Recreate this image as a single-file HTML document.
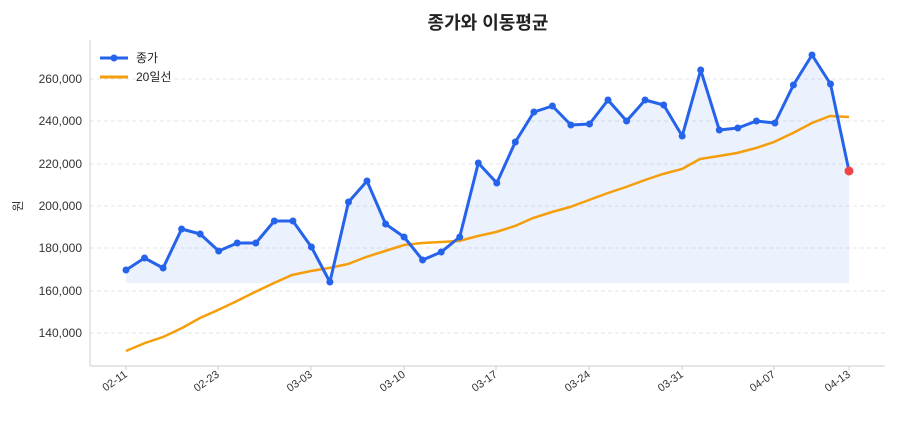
<!DOCTYPE html>
<html><head><meta charset="utf-8"><style>
body{margin:0;background:#fff;}
svg text{font-family:"Liberation Sans","Noto Sans CJK KR",sans-serif;}
</style></head><body>
<svg width="900" height="420" xmlns="http://www.w3.org/2000/svg">
<rect width="900" height="420" fill="#fff"/>
<text x="488" y="29" font-size="18" font-weight="bold" text-anchor="middle" fill="#222">종가와 이동평균</text>
<g stroke="#e3e6ea" stroke-dasharray="4,3" stroke-width="1">
<line x1="90" x2="885" y1="333" y2="333"/><line x1="90" x2="885" y1="291" y2="291"/>
<line x1="90" x2="885" y1="248" y2="248"/><line x1="90" x2="885" y1="206" y2="206"/>
<line x1="90" x2="885" y1="164" y2="164"/><line x1="90" x2="885" y1="121" y2="121"/>
<line x1="90" x2="885" y1="79" y2="79"/>
</g>
<line x1="90" y1="40" x2="90" y2="366" stroke="#ccc"/>
<line x1="90" y1="366" x2="885" y2="366" stroke="#ccc"/>
<g font-size="12" fill="#333" text-anchor="end">
<text x="82" y="337">140,000</text><text x="82" y="295">160,000</text>
<text x="82" y="252">180,000</text><text x="82" y="210">200,000</text>
<text x="82" y="168">220,000</text><text x="82" y="125">240,000</text>
<text x="82" y="83">260,000</text>
</g>
<text x="22" y="206" font-size="12" fill="#333" transform="rotate(-90 22 206)" text-anchor="middle">원</text>
<g font-size="11" fill="#333" text-anchor="end">
<text transform="translate(128 376) rotate(-35)">02-11</text>
<text transform="translate(220 376) rotate(-35)">02-23</text>
<text transform="translate(313 376) rotate(-35)">03-03</text>
<text transform="translate(406 376) rotate(-35)">03-10</text>
<text transform="translate(498 376) rotate(-35)">03-17</text>
<text transform="translate(591 376) rotate(-35)">03-24</text>
<text transform="translate(684 376) rotate(-35)">03-31</text>
<text transform="translate(776 376) rotate(-35)">04-07</text>
<text transform="translate(851 376) rotate(-35)">04-13</text>
</g>
<g stroke="#ccc"><line x1="126" x2="126" y1="366" y2="370"/><line x1="218" x2="218" y1="366" y2="370"/><line x1="311" x2="311" y1="366" y2="370"/><line x1="404" x2="404" y1="366" y2="370"/><line x1="496" x2="496" y1="366" y2="370"/><line x1="589" x2="589" y1="366" y2="370"/><line x1="682" x2="682" y1="366" y2="370"/><line x1="774" x2="774" y1="366" y2="370"/><line x1="849" x2="849" y1="366" y2="370"/></g>
<polygon fill="#2563eb" fill-opacity="0.09" points="126,283 126,270 144.5,258 163.1,268 181.6,229 200.2,234 218.7,251 237.2,243 255.8,243 274.3,221 292.9,221 311.4,247 329.9,282 348.5,202 367,181 385.6,224 404.1,237 422.6,260 441.2,252 459.7,237 478.3,163 496.8,183 515.3,142 533.9,112 552.4,106 570.9,125 589.5,124 608,100 626.6,121 645.1,100 663.7,105 682.2,136 700.7,70 719.3,130 737.8,128 756.4,121 774.9,123 793.4,85 812,55 830.5,84 849,171 849,283"/>
<polyline fill="none" stroke="#f59e0b" stroke-width="2.5" points="126,351 145,343 163,337 182,328 200,318 218,310 237,301 255,292 274,283 292,275 311,271 329,268 348,264 366,257 385,251 404,245 422,243 441,242 459,241 478,236 496,232 515,226 533,218 552,212 570,207 589,200 608,193 626,187 645,180 663,174 682,169 700,159 719,156 737,153 756,148 774,142 793,133 812,123 830,116 849,117"/>
<polyline fill="none" stroke="#2563eb" stroke-width="3" stroke-linejoin="round" points="126,270 144.5,258 163.1,268 181.6,229 200.2,234 218.7,251 237.2,243 255.8,243 274.3,221 292.9,221 311.4,247 329.9,282 348.5,202 367,181 385.6,224 404.1,237 422.6,260 441.2,252 459.7,237 478.3,163 496.8,183 515.3,142 533.9,112 552.4,106 570.9,125 589.5,124 608,100 626.6,121 645.1,100 663.7,105 682.2,136 700.7,70 719.3,130 737.8,128 756.4,121 774.9,123 793.4,85 812,55 830.5,84 849,171"/>
<g fill="#2563eb">
<circle cx="126" cy="270" r="3.5"/><circle cx="144.5" cy="258" r="3.5"/><circle cx="163.1" cy="268" r="3.5"/><circle cx="181.6" cy="229" r="3.5"/><circle cx="200.2" cy="234" r="3.5"/><circle cx="218.7" cy="251" r="3.5"/><circle cx="237.2" cy="243" r="3.5"/><circle cx="255.8" cy="243" r="3.5"/><circle cx="274.3" cy="221" r="3.5"/><circle cx="292.9" cy="221" r="3.5"/><circle cx="311.4" cy="247" r="3.5"/><circle cx="329.9" cy="282" r="3.5"/><circle cx="348.5" cy="202" r="3.5"/><circle cx="367" cy="181" r="3.5"/><circle cx="385.6" cy="224" r="3.5"/><circle cx="404.1" cy="237" r="3.5"/><circle cx="422.6" cy="260" r="3.5"/><circle cx="441.2" cy="252" r="3.5"/><circle cx="459.7" cy="237" r="3.5"/><circle cx="478.3" cy="163" r="3.5"/><circle cx="496.8" cy="183" r="3.5"/><circle cx="515.3" cy="142" r="3.5"/><circle cx="533.9" cy="112" r="3.5"/><circle cx="552.4" cy="106" r="3.5"/><circle cx="570.9" cy="125" r="3.5"/><circle cx="589.5" cy="124" r="3.5"/><circle cx="608" cy="100" r="3.5"/><circle cx="626.6" cy="121" r="3.5"/><circle cx="645.1" cy="100" r="3.5"/><circle cx="663.7" cy="105" r="3.5"/><circle cx="682.2" cy="136" r="3.5"/><circle cx="700.7" cy="70" r="3.5"/><circle cx="719.3" cy="130" r="3.5"/><circle cx="737.8" cy="128" r="3.5"/><circle cx="756.4" cy="121" r="3.5"/><circle cx="774.9" cy="123" r="3.5"/><circle cx="793.4" cy="85" r="3.5"/><circle cx="812" cy="55" r="3.5"/><circle cx="830.5" cy="84" r="3.5"/>
</g>
<circle cx="849" cy="171" r="4.5" fill="#ef4444"/>
<line x1="100" y1="58" x2="128" y2="58" stroke="#2563eb" stroke-width="3"/>
<circle cx="114" cy="58" r="3.5" fill="#2563eb"/>
<text x="136" y="62" font-size="12" fill="#222">종가</text>
<line x1="100" y1="77" x2="128" y2="77" stroke="#f59e0b" stroke-width="3"/>
<text x="136" y="81" font-size="12" fill="#222">20일선</text>
</svg>
</body></html>
